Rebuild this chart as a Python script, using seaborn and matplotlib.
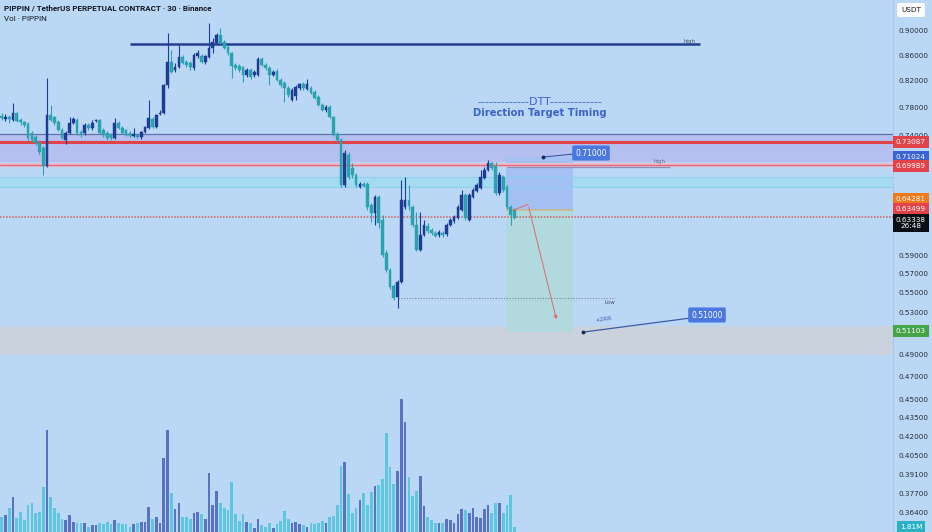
import matplotlib
matplotlib.use("Agg")
import matplotlib.pyplot as plt
from matplotlib.ticker import NullLocator
import numpy as np
import pandas as pd
import seaborn as sns

# PIPPIN/USDT 30m candles
opens = [
    .7668, .7625, .7654, .7611, .7712, .7611, .7583, .7554, .7427, .7371,
    .7289, .7220, .6980, .7683, .7654, .7583, .7469, .7330, .7427, .7568,
    .7611, .7441, .7427, .7540, .7497, .7597, .7611, .7469, .7427, .7399,
    .7358, .7568, .7497, .7469, .7427, .7385, .7399, .7371, .7441, .7497,
    .7625, .7512, .7698, .7712, .8130, .8490, .8363, .8410, .8570, .8490,
    .8474, .8395, .8586, .8586, .8490, .8570, .8717, .8799, .8933, .8816,
    .8733, .8635, .8442, .8426, .8410, .8284, .8363, .8284, .8284, .8538,
    .8442, .8395, .8284, .8347, .8207, .8161, .8084, .7904, .7963, .8084,
    .8145, .8069, .8084, .8024, .7948, .7830, .7756, .7800, .7654, .7413,
    .7330, .6734, .7126, .6954, .6862, .6709, .6747, .6747, .6485, .6388,
    .6584, .6305, .5925, .5738, .5568, .5455, .5610, .6461, .6547, .6461,
    .6246, .5958, .6129, .6234, .6187, .6152, .6129, .6152, .6141, .6246,
    .6293, .6329, .6425, .6609, .6305, .6584, .6659, .6696, .6824, .6927,
    .7020, .6980, .6634, .6836, .6709, .6461, .6425,
]
closes = [
    .7640, .7654, .7625, .7712, .7597, .7583, .7540, .7358, .7330, .7289,
    .7166, .6980, .7683, .7611, .7568, .7469, .7358, .7427, .7568, .7625,
    .7427, .7399, .7540, .7497, .7568, .7611, .7427, .7399, .7358, .7358,
    .7568, .7497, .7427, .7399, .7385, .7413, .7371, .7441, .7512, .7640,
    .7512, .7683, .7712, .8130, .8490, .8331, .8410, .8570, .8474, .8442,
    .8410, .8602, .8635, .8490, .8586, .8717, .8816, .8933, .8799, .8717,
    .8635, .8426, .8395, .8363, .8284, .8363, .8253, .8331, .8538, .8442,
    .8395, .8284, .8331, .8207, .8130, .8084, .7978, .8054, .8100, .8145,
    .8084, .8145, .8008, .7933, .7830, .7756, .7800, .7654, .7399, .7330,
    .6734, .7153, .6836, .6862, .6734, .6747, .6721, .6461, .6388, .6584,
    .6269, .5903, .5738, .5558, .5444, .5610, .6547, .6547, .6473, .6246,
    .5958, .6129, .6246, .6175, .6152, .6118, .6164, .6129, .6246, .6305,
    .6340, .6461, .6609, .6329, .6609, .6671, .6734, .6836, .6927, .7020,
    .6954, .6634, .6862, .6671, .6461, .6364, .6329,
]
highs = [
    .7712, .7698, .7683, .7864, .7727, .7640, .7597, .7583, .7455, .7399,
    .7330, .7247, .8238, .7830, .7668, .7611, .7497, .7455, .7654, .7654,
    .7640, .7469, .7568, .7568, .7611, .7625, .7625, .7497, .7455, .7427,
    .7640, .7597, .7526, .7483, .7455, .7497, .7427, .7455, .7526, .7904,
    .7654, .7698, .7756, .8145, .8966, .8684, .8474, .8766, .8602, .8522,
    .8506, .8635, .8684, .8618, .8602, .9139, .8883, .8966, .9051, .8849,
    .8766, .8651, .8474, .8458, .8426, .8395, .8395, .8363, .8570, .8570,
    .8474, .8426, .8363, .8379, .8238, .8192, .8115, .8084, .8130, .8161,
    .8176, .8222, .8115, .8054, .7978, .7860, .7830, .7830, .7668, .7441,
    .7358, .7193, .7166, .7020, .6888, .6772, .6772, .6772, .6510, .6609,
    .6609, .6364, .5958, .5760, .5589, .5631, .6798, .6836, .6734, .6485,
    .6400, .6400, .6305, .6269, .6210, .6175, .6187, .6175, .6269, .6329,
    .6364, .6485, .6671, .6634, .6634, .6696, .6759, .6927, .6967, .7059,
    .7033, .7033, .6901, .6862, .6734, .6485, .6449,
]
lows = [
    .7611, .7597, .7568, .7597, .7583, .7540, .7512, .7330, .7302, .7261,
    .7139, .6862, .6967, .7597, .7540, .7455, .7344, .7275, .7413, .7554,
    .7399, .7371, .7399, .7469, .7469, .7583, .7413, .7371, .7330, .7330,
    .7344, .7483, .7413, .7385, .7371, .7371, .7358, .7344, .7427, .7483,
    .7497, .7497, .7683, .7698, .8084, .8316, .8331, .8395, .8458, .8410,
    .8363, .8363, .8554, .8474, .8458, .8554, .8635, .8783, .8783, .8700,
    .8602, .8238, .8363, .8331, .8176, .8253, .8222, .8253, .8269, .8426,
    .8363, .8130, .8269, .8192, .8100, .7874, .7948, .7889, .7904, .8054,
    .8054, .8054, .7993, .7919, .7815, .7741, .7727, .7640, .7385, .7302,
    .6709, .6709, .6811, .6824, .6709, .6696, .6709, .6425, .6281, .6246,
    .6210, .5881, .5717, .5537, .5424, .5343, .5600, .6437, .6425, .6222,
    .5947, .5947, .6118, .6152, .6129, .6106, .6106, .6106, .6118, .6234,
    .6269, .6317, .6413, .6305, .6293, .6572, .6646, .6684, .6811, .6914,
    .6927, .6609, .6609, .6646, .6437, .6246, .6317,
]
# volume in millions
volumes = [
    5.5, 6.1, 8.5, 12.7, 4.9, 7.3, 4.3, 9.7, 10.3, 7.0,
    7.3, 16.1, 36.7, 12.7, 8.8, 6.7, 4.6, 4.3, 6.1, 3.7,
    3.4, 3.4, 3.4, 1.9, 2.5, 2.5, 3.4, 2.9, 3.7, 2.9,
    4.3, 3.4, 2.8, 2.8, 1.9, 2.8, 3.1, 3.7, 3.7, 9.1,
    4.6, 5.5, 3.1, 26.5, 36.7, 13.9, 8.2, 10.6, 5.3, 5.3,
    4.7, 6.7, 7.2, 6.5, 4.6, 21.4, 9.6, 14.9, 10.3, 8.8,
    7.9, 17.9, 6.4, 4.1, 6.4, 3.7, 3.4, 1.6, 4.6, 2.5,
    1.7, 3.4, 1.6, 2.8, 4.0, 7.7, 4.6, 3.4, 3.7, 2.9,
    2.5, 1.9, 3.4, 2.8, 3.1, 4.0, 3.4, 5.3, 5.8, 9.7,
    23.8, 25.3, 13.7, 6.7, 8.5, 11.5, 13.9, 9.7, 14.5, 16.6,
    16.9, 19.0, 35.5, 23.5, 17.3, 22.0, 47.8, 39.7, 19.7, 13.0,
    14.8, 20.3, 9.4, 5.5, 4.3, 3.4, 3.4, 3.4, 4.6, 4.3,
    3.4, 6.4, 8.2, 7.9, 7.0, 8.8, 5.5, 4.9, 8.3, 9.7,
    6.7, 10.3, 10.6, 6.7, 9.7, 13.3, 1.81,
]
price_ticks = [0.90, 0.86, 0.82, 0.78, 0.74, 0.59, 0.57, 0.55, 0.53,
               0.49, 0.47, 0.45, 0.435, 0.42, 0.405, 0.391, 0.377, 0.364]

BG = "#bbd7f6"
UP = "#1d3c93"
DOWN = "#2aa3ae"

W, H = 932, 532
sns.set_style("white")
plt.rcParams["font.family"] = ["DejaVu Sans"]

fig = plt.figure(figsize=(W / 100, H / 100), dpi=100)
fig.patch.set_facecolor(BG)
ax = fig.add_axes([0, 0, 893 / W, 1])
ax.set_facecolor(BG)
ax.set_yscale("log")

def fx(px):
    return px / W

def fy(py):
    return 1 - py / H

# zones and levels
ax.axhspan(0.7036, 0.7413, fc="#b4c0f0", ec="none", zorder=0.5)
ax.axhline(0.7413, color="#5f72aa", lw=0.9, zorder=1)
ax.axhline(0.73087, color="#e2434b", lw=2.2, zorder=1)
ax.axhline(0.69989, color="#ecb8cc", lw=3, zorder=1)
ax.axhline(0.69989, color="#d96a78", lw=0.9, zorder=1.1)
ax.axhspan(0.6713, 0.6840, fc="#a4dbf1", ec="none", zorder=0.5)
ax.axhline(0.6840, color="#8fd0ec", lw=0.8, zorder=1)
ax.axhline(0.6713, color="#8fd0ec", lw=0.8, zorder=1)
ax.axhline(0.63499, color="#cf6059", lw=1.1, ls=(0, (1, 1)), zorder=1)
ax.axhspan(0.4895, 0.5170, fc="#cad3dd", ec="none", zorder=0.5)

# short position box
ax.fill_between([133.8, 151.5], 0.6425, 0.7102, color="#a5c1f3", lw=0, zorder=0.8)
ax.fill_between([133.8, 151.5], 0.5110, 0.6425, color="#b2d9de", lw=0, zorder=0.8)
ax.hlines(0.6425, 133.8, 151.5, color="#c9b98e", lw=1.2, zorder=1.2)

# high / low markers
ax.hlines(0.8783, 34.0, 185.2, color="#24408e", lw=1.8, zorder=2)
ax.hlines(0.6967, 134.0, 177.3, color="#8b8fb8", lw=0.9, zorder=2)
ax.hlines(0.5444, 105.1, 162.7, color="#7d8696", lw=0.8, linestyles=(0, (1, 1.5)), zorder=2)

# candles
idx = np.arange(len(closes))
o = np.array(opens)
c = np.array(closes)
up = c >= o
cols = np.where(up, UP, DOWN)
ax.vlines(idx, lows, highs, colors=cols, lw=0.8, zorder=3)
ax.bar(idx, np.abs(c - o), bottom=np.minimum(o, c), width=0.72,
       color=cols, edgecolor=cols, linewidth=0.3, zorder=3.1)

# target lines and arrow
ax.plot([143.6, 151.8], [0.7102, 0.7142], color="#3d5aa8", lw=0.8, zorder=4)
ax.plot([143.6], [0.7102], "o", color="#1a2a50", ms=1.8, zorder=4)
ax.plot([154.2, 182.6], [0.5110, 0.5247], color="#3d5aa8", lw=0.9, zorder=4)
ax.plot([154.2], [0.5110], "o", color="#1a2a50", ms=1.8, zorder=4)
ax.plot([135.6, 139.6], [0.6425, 0.6497], color="#e06a6a", lw=0.7, zorder=4)
ax.annotate("", xy=(147.3, 0.5208), xytext=(139.6, 0.6497),
            arrowprops=dict(arrowstyle="-|>", color="#e06a6a", lw=0.7,
                            mutation_scale=5), zorder=4)

ax.set_ylim(0.35096, 0.9540)

# volume pane
axv = ax.twinx()
vol_df = pd.DataFrame({"bar": idx, "volume": volumes,
                       "side": np.where(up, "up", "down")})
sns.barplot(data=vol_df, x="bar", y="volume", hue="side",
            palette={"up": "#5a72c2", "down": "#5ec6de"},
            native_scale=True, dodge=False, width=0.72, saturation=1,
            errorbar=None, legend=False, linewidth=0, ax=axv)
axv.set_ylim(0, 191.5)
axv.axis("off")
ax.set_xlim(-0.451, 236.4)

# price axis on the right (after twinx, which moves it left)
ax.yaxis.tick_right()
ax.yaxis.set_label_position("right")
ax.set_yticks(price_ticks)
ax.set_yticklabels([f"{v:.5f}" for v in price_ticks])
ax.yaxis.set_minor_locator(NullLocator())
ax.tick_params(axis="y", which="both", length=0, pad=4, labelsize=5.2,
               labelcolor="#2a2e39", left=False, labelleft=False,
               right=False, labelright=True)
ax.set_xticks([])
for s in ["top", "left", "bottom"]:
    ax.spines[s].set_visible(False)
ax.spines["right"].set_color("#a9c8ec")
ax.spines["right"].set_linewidth(0.8)

# texts
fig.text(fx(4), fy(8), "PIPPIN / TetherUS PERPETUAL CONTRACT · 30 · Binance",
         fontsize=5.8, fontweight="bold", family="Roboto", color="#131722", va="center")
fig.text(fx(4), fy(19), "Vol · PIPPIN", fontsize=5.8, family="Roboto",
         color="#131722", va="center")
fig.text(fx(540), fy(102), "-------------DTT-------------", fontsize=8,
         color="#3d63c9", ha="center", va="center")
fig.text(fx(540), fy(113), "Direction Target Timing", fontsize=7.2,
         fontweight="bold", color="#3d63c9", ha="center", va="center")
fig.text(fx(690), fy(41), "high", fontsize=4, color="#4a4f60", ha="center", va="center")
fig.text(fx(660), fy(162), "high", fontsize=4, color="#6a6f85", ha="center", va="center")
fig.text(fx(610), fy(302), "Low", fontsize=4, color="#4a4f60", ha="center", va="center")
fig.text(fx(604), fy(319), "+2RR", fontsize=4.2, color="#3d5aa8", rotation=8,
         ha="center", va="center")
for px, py, txt in [(591, 153, "0.71000"), (707, 315, "0.51000")]:
    fig.text(fx(px), fy(py), txt, fontsize=5.5, color="white", ha="center", va="center",
             bbox=dict(boxstyle="round,pad=0.4,rounding_size=0.2", fc="#4a78e0", ec="none"))

# right scale labels
fig.text(fx(911), fy(10), "USDT", fontsize=5.2, color="#131722", ha="center", va="center",
         bbox=dict(boxstyle="round,pad=0.55,rounding_size=0.2", fc="white", ec="none"))
for py, txt, bg in [(142, "0.73087", "#e2434b"), (157, "0.71024", "#3b63d6"),
                    (166, "0.69989", "#e2434b"), (199, "0.64281", "#f07a1a"),
                    (209, "0.63499", "#e2434b"), (223, "0.63338\n26:48", "#0c0e14"),
                    (331, "0.51103", "#44a447"), (527, "1.81M", "#2ab3c4")]:
    fig.text(fx(911), fy(py), txt, fontsize=5.2, color="white", ha="center", va="center",
             linespacing=1.1,
             bbox=dict(boxstyle="square,pad=0.42", fc=bg, ec="none"))

fig.savefig("out.png", dpi=100, facecolor=BG)
